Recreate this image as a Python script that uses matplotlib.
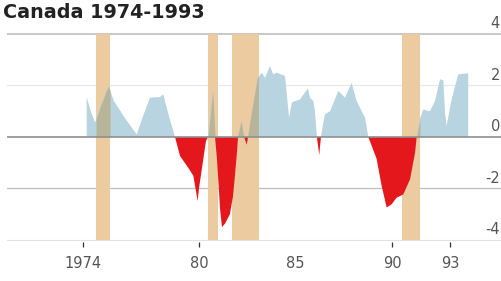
import matplotlib
matplotlib.use("Agg")
import matplotlib.pyplot as plt
import numpy as np

plt.rcParams['font.family'] = ['DejaVu Sans']

title = "Canada 1974-1993"

years = [1974.19, 1974.40, 1974.62, 1974.95, 1975.31, 1975.60, 1976.20, 1976.78,
         1977.10, 1977.47, 1977.98, 1978.15, 1978.45, 1978.76,
         1979.02, 1979.45, 1979.71, 1979.93, 1980.00, 1980.21, 1980.36, 1980.47,
         1980.71, 1980.83, 1980.93, 1981.09, 1981.19, 1981.35, 1981.60, 1981.76,
         1981.86, 1981.97, 1982.02, 1982.21, 1982.33, 1982.47, 1982.54, 1982.75,
         1983.05, 1983.24, 1983.42, 1983.67, 1983.84, 1984.02, 1984.45, 1984.66,
         1984.81, 1985.23, 1985.64, 1985.74, 1985.91, 1986.00, 1986.10, 1986.22,
         1986.31, 1986.42, 1986.52, 1986.78, 1987.21, 1987.55, 1987.90, 1988.15,
         1988.59, 1988.76, 1989.19, 1989.45, 1989.71, 1989.97, 1990.22, 1990.57,
         1990.92, 1991.18, 1991.26, 1991.43, 1991.60, 1991.95, 1992.21, 1992.47,
         1992.64, 1992.73, 1992.81, 1993.07, 1993.41, 1993.85, 1993.93]
values = [1.55, 1.00, 0.56, 1.30, 1.98, 1.40, 0.70, 0.10,
          0.80, 1.53, 1.55, 1.66, 0.80, 0.00,
          -0.74, -1.20, -1.51, -2.49, -2.00, -0.93, -0.16, 0.00,
          1.79, 0.00, -0.85, -2.80, -3.50, -3.36, -3.00, -2.30,
          -1.50, -0.55, 0.00, 0.62, 0.00, -0.30, 0.00, 1.00,
          2.30, 2.50, 2.30, 2.76, 2.43, 2.50, 2.37, 0.75,
          1.35, 1.46, 1.89, 1.53, 1.40, 1.00, 0.00, -0.70,
          0.00, 0.50, 0.89, 1.00, 1.79, 1.53, 2.10, 1.40,
          0.75, 0.00, -0.85, -1.90, -2.74, -2.61, -2.36, -2.23,
          -1.64, -0.60, 0.00, 0.70, 1.07, 1.00, 1.40, 2.24,
          2.20, 0.94, 0.43, 1.46, 2.43, 2.47, 2.47]

recessions = [(1974.67, 1975.40), (1980.47, 1980.98), (1981.70, 1983.10), (1990.50, 1991.43)]

xticks = [1974, 1980, 1985, 1990, 1993]
xticklabels = ["1974", "80", "85", "90", "93"]
ygrid = [4, 2, 0, -2, -4]
yticklabels = ["4", "2", "0", "-2", "-4"]

BLUE = "#B7D4E0"
RED = "#E3171C"
TAN = "#EBCB9F"
OVER = "#B8B49A"

W, H = 502, 281
fig = plt.figure(figsize=(W / 100, H / 100), dpi=100)
ax = fig.add_axes([7 / W, 39 / H, (W - 7) / W, 214 / H])

x = np.array(years)
y = np.array(values)

for x0, x1 in recessions:
    ax.fill_between([x0, x1], -4, 4, color=TAN, lw=0, zorder=1)

ax.fill_between(x, y, 0, where=y >= 0, interpolate=True, color=BLUE, lw=0, zorder=2)

# overlap of positive area with recession bands
for x0, x1 in recessions:
    xs = np.union1d(np.linspace(x0, x1, 400), x[(x >= x0) & (x <= x1)])
    ys = np.interp(xs, x, y, left=0, right=0)
    ax.fill_between(xs, ys, 0, where=ys >= 0, interpolate=True, color=OVER, lw=0, zorder=3)

ax.fill_between(x, y, 0, where=y <= 0, interpolate=True, color=RED, lw=0, zorder=4)

grid_style = {4: ("#c4c4c4", 1.3), 2: ("#e8e8e8", 0.8), 0: ("#8f8f8f", 1.2),
              -2: ("#bdbdbd", 0.9), -4: ("#e2e2e2", 0.8)}
for v, lab in zip(ygrid, yticklabels):
    c, lw = grid_style[v]
    ax.axhline(v, color=c, lw=lw, zorder=5 if v == 0 else 0.5)
    ax.annotate(lab, xy=(1, v), xycoords=('axes fraction', 'data'),
                xytext=(-1.5, 2), textcoords='offset points',
                ha='right', va='bottom', fontsize=10.5, color='#555555')

ax.set_xlim(1970.068, 1995.676)
ax.set_ylim(-4.078, 4.233)
for s in ax.spines.values():
    s.set_visible(False)
ax.set_yticks([])
ax.set_xticks(xticks)
ax.set_xticklabels(xticklabels, fontsize=10.5, color='#555555')
ax.tick_params(axis='x', length=3.8, width=0.9, color='#333333', pad=6)
ax.xaxis.get_major_ticks()[2].tick1line.set_visible(False)

fig.text(3 / W, 1 - 3 / H, title, ha='left', va='top', fontsize=13.8,
         fontweight='bold', color='#222222')

fig.savefig("out.png", dpi=100)
